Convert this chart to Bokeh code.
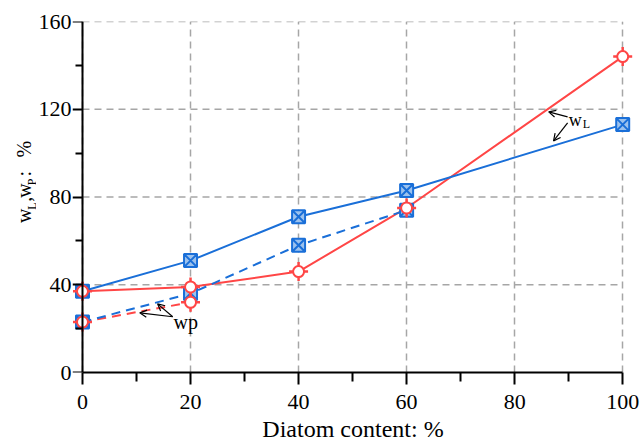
import math
from bokeh.plotting import figure
from bokeh.layouts import row
from bokeh.models import Range1d, FixedTicker, Arrow, OpenHead
from bokeh.core.properties import value
from bokeh.embed import file_html
from bokeh.resources import INLINE

# ---- data ----
content = [0, 20, 40, 60, 100]
wl_red = [37, 39, 46, 75, 144]
wl_blue = [37, 51, 71, 83, 113]
wp_red_x = [0, 20]
wp_red = [23, 32]
wp_blue_x = [0, 20, 40, 60]
wp_blue = [23, 36, 58, 74]
x_ticks = [0, 20, 40, 60, 80, 100]
x_minor = [10, 30, 50, 70, 90]
y_ticks = [0, 40, 80, 120, 160]
y_minor = [20, 60, 100, 140]

RED = "#ff4646"
BLUE = "#1a6fd8"
FONT = "Liberation Serif"
GRID = "#a6a6a6"

TW = 36   # strip with the y-axis title
LW = 36   # strip with the y tick labels
TOP, BOTTOM = 21, 70

y_range = Range1d(0, 160)

p = figure(width=640 - TW - LW, height=444, output_backend="svg", toolbar_location=None,
           x_range=Range1d(-1.85, 102), y_range=y_range,
           min_border_left=0, min_border_right=7, min_border_top=TOP, min_border_bottom=BOTTOM)
p.outline_line_color = None
p.background_fill_color = "white"
p.border_fill_color = "white"

for ax in (p.xaxis[0], p.yaxis[0]):
    ax.axis_line_color = "black"
    ax.axis_line_width = 2
    ax.major_tick_line_color = "black"
    ax.major_tick_line_width = 2
    ax.minor_tick_line_color = "black"
    ax.minor_tick_line_width = 2
    ax.major_tick_in = 0
    ax.minor_tick_in = 0
    ax.major_label_text_font = FONT
    ax.major_label_text_font_size = "22px"
    ax.major_label_text_color = "black"
    ax.axis_label_text_font = FONT
    ax.axis_label_text_font_style = "normal"
    ax.axis_label_text_color = "black"

p.xaxis.ticker = FixedTicker(ticks=x_ticks, minor_ticks=x_minor)
p.yaxis.ticker = FixedTicker(ticks=y_ticks, minor_ticks=y_minor)
p.xaxis.bounds = (min(x_ticks), max(x_ticks))
p.yaxis.fixed_location = min(x_ticks)
p.yaxis.major_label_text_alpha = 0   # labels are drawn by the tick-label strip
p.xaxis.major_tick_out = 12
p.yaxis.major_tick_out = 10
p.xaxis.minor_tick_out = 9
p.yaxis.minor_tick_out = 7
p.xaxis.major_label_standoff = 10
p.xaxis.axis_label = "Diatom content: %"
p.xaxis.axis_label_text_font_size = "24px"
p.xaxis.axis_label_standoff = 4
p.yaxis.axis_label = None

# grid
p.xgrid.grid_line_color = GRID
p.xgrid.grid_line_dash = "7 5"
p.xgrid.grid_line_width = 1.5
p.ygrid.grid_line_color = None
hy = [t for t in y_ticks if t > 0]
p.segment(x0=[min(x_ticks)] * len(hy), x1=[max(x_ticks)] * len(hy), y0=hy, y1=hy,
          line_color=GRID, line_dash="7 5", line_width=1.5)

# lines
p.line(content, wl_red, line_color=RED, line_width=2)
p.line(content, wl_blue, line_color=BLUE, line_width=2)
p.line(wp_red_x, wp_red, line_color=RED, line_width=2, line_dash="9 6")
p.line(wp_blue_x, wp_blue, line_color=BLUE, line_width=2, line_dash="9 6")

# markers
def blue_markers(xs, ys):
    p.scatter(xs, ys, marker="square_x", size=13, fill_color="#9cc2ee",
              line_color=BLUE, line_width=2)

def red_markers(xs, ys):
    p.scatter(xs, ys, marker="cross", size=19, line_color=RED, line_width=2.5)
    p.scatter(xs, ys, marker="circle", size=11, fill_color="white",
              line_color=RED, line_width=2)

blue_markers(content, wl_blue)
blue_markers(wp_blue_x, wp_blue)
red_markers(content, wl_red)
red_markers(wp_red_x, wp_red)

# annotations
def txt(fig, x, y, t, size, angle=0.0):
    fig.text(x=[x], y=[y], text=[t], text_font=value(FONT), text_font_size=size,
             text_color="black", angle=angle, text_baseline="alphabetic",
             text_align="left")

txt(p, 90.0, 115.1, "w", "18px")
txt(p, 92.6, 113.3, "L", "12px")
txt(p, 16.85, 23.1, "wp", "20px")

def arrow(x0, y0, x1, y1):
    p.add_layout(Arrow(x_start=x0, y_start=y0, x_end=x1, y_end=y1,
                       line_color="black", line_width=1.2,
                       end=OpenHead(size=7, line_color="black", line_width=1.2)))

arrow(89.8, 116.5, 86.3, 118.8)
arrow(89.8, 113.8, 87.2, 105.6)
arrow(16.7, 25.4, 13.9, 31.3)
arrow(16.7, 25.4, 10.6, 27.2)

# tick-label strip: a real y axis sharing the plot's y range
L = figure(width=LW, height=444, output_backend="svg", toolbar_location=None,
           x_range=Range1d(0, 1), y_range=y_range,
           min_border_left=LW - 1, min_border_right=0,
           min_border_top=TOP, min_border_bottom=BOTTOM)
L.xaxis.visible = False
L.grid.visible = False
L.outline_line_color = None
L.border_fill_color = "white"
L.background_fill_color = "white"
ya = L.yaxis[0]
ya.ticker = FixedTicker(ticks=y_ticks, minor_ticks=[])
ya.axis_line_color = None
ya.major_tick_line_color = None
ya.minor_tick_line_color = None
ya.major_tick_in = 0
ya.major_tick_out = 0
ya.minor_tick_in = 0
ya.minor_tick_out = 0
ya.major_label_standoff = 1
ya.major_label_text_font = FONT
ya.major_label_text_font_size = "22px"
ya.major_label_text_color = "black"

# y-axis title strip (pixel coordinates)
T = figure(width=TW, height=444, output_backend="svg", toolbar_location=None,
           x_range=Range1d(0, TW), y_range=Range1d(0, 444),
           min_border=0, min_border_left=0, min_border_right=0,
           min_border_top=0, min_border_bottom=0)
T.axis.visible = False
T.grid.visible = False
T.outline_line_color = None
T.border_fill_color = "white"
A = math.pi / 2
txt(T, 23, 189, "w", "20px", A)
txt(T, 31, 206, "L", "12px", A)
txt(T, 23, 216, ",", "20px", A)
txt(T, 23, 221, "w", "20px", A)
txt(T, 31, 237, "P", "12px", A)
txt(T, 23, 248, ":", "20px", A)
txt(T, 23, 272, "%", "20px", A)

layout = row(T, L, p, spacing=0)
open("out.html", "w").write(file_html(layout, INLINE))
